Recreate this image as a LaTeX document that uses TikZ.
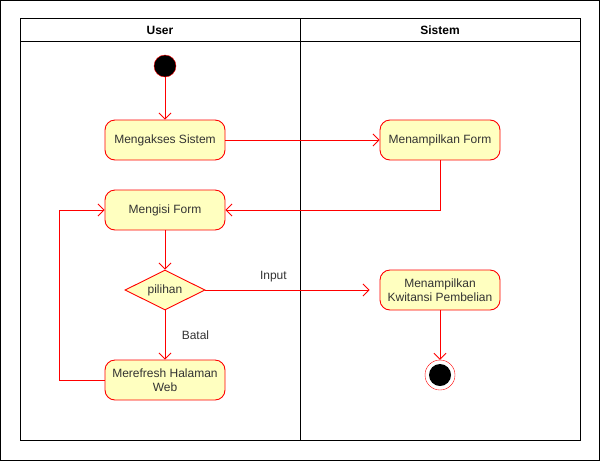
\documentclass[tikz,border=0pt]{standalone}
\usepackage{fontspec}
\setmainfont{Liberation Sans}
\usepackage{tikz}
\usetikzlibrary{calc,shapes.geometric,arrows.meta}

\definecolor{actfill}{HTML}{FFFFC0}
\definecolor{actline}{HTML}{FF0000}
\definecolor{acttext}{HTML}{333333}

\begin{document}
\begin{tikzpicture}[x=1pt, y=-1pt, >={Straight Barb[length=6pt,width=12pt]},
  action/.style={draw=actline, fill=actfill, rounded corners=10pt, line width=0.9pt,
    minimum width=120pt, minimum height=40pt, align=center, text=acttext,
    font=\fontsize{12}{14}\selectfont},
  decision/.style={diamond, shape aspect=2, draw=actline, fill=actfill, line width=0.9pt, inner sep=0pt,
    minimum width=80pt, minimum height=40pt, text=acttext, font=\fontsize{12}{14}\selectfont},
  flow/.style={->, draw=actline, line width=0.9pt},
  lbl/.style={text=acttext, font=\fontsize{12}{14}\selectfont}]

  % Parameters
  \def\laneL{20}     % left of the lanes
  \def\laneM{300}    % divider
  \def\laneR{580}    % right of the lanes
  \def\laneT{18}     % top
  \def\laneH{41}     % bottom of the header
  \def\laneB{440}    % bottom

  % Frame and lanes
  \useasboundingbox (0,0) rectangle (601,461);
  \draw[line width=1pt] (0.5,0.5) rectangle (599.5,460.5);
  \draw[line width=1pt] (\laneL,\laneT) rectangle (\laneR,\laneB);
  \draw[line width=1pt] (\laneL,\laneH) -- (\laneR,\laneH);
  \draw[line width=1pt] (\laneM,\laneT) -- (\laneM,\laneB);
  \node[font=\fontsize{12}{14}\selectfont\bfseries] (userhead) at (160,30) {User};
  \node[font=\fontsize{12}{14}\selectfont\bfseries] (sistemhead) at (440,30) {Sistem};

  % Start and end
  \node[circle, draw=actline, fill=black, minimum size=22pt, inner sep=0pt] (start) at (165,66) {};
  \node[circle, draw=actline, fill=white, minimum size=30pt, inner sep=0pt,
    path picture={\fill[black] (path picture bounding box.center) circle (11pt);}] (finish) at (440,375) {};

  % Actions, lane User
  \node[action] (akses) at (165,140) {Mengakses Sistem};
  \node[action] (isi) at (165,210) {Mengisi Form};
  \node[decision] (pilihan) at (165,290) {pilihan};
  \node[action] (refresh) at (165,380) {Merefresh Halaman\\Web};

  % Actions, lane Sistem
  \node[action] (tampilform) at (440,140) {Menampilkan Form};
  \node[action] (kwitansi) at (440,290) {Menampilkan\\Kwitansi Pembelian};

  % Flows
  \draw[flow] (start) -- (akses);
  \draw[flow] (akses) -- (tampilform);
  \draw[flow] (tampilform.south) |- (isi.east);
  \draw[flow] (isi) -- (pilihan);
  \draw[flow, shorten >=10pt] (pilihan.east) -- (kwitansi.west)
    node[lbl, pos=0.39, above=4pt] {Input};
  \draw[flow] (pilihan.south) -- (refresh.north)
    node[lbl, midway, right=13pt] {Batal};
  \draw[flow] (refresh.west) -- ++(-45,0) |- (isi.west);
  \draw[flow] (kwitansi) -- (finish);

\end{tikzpicture}
\end{document}
